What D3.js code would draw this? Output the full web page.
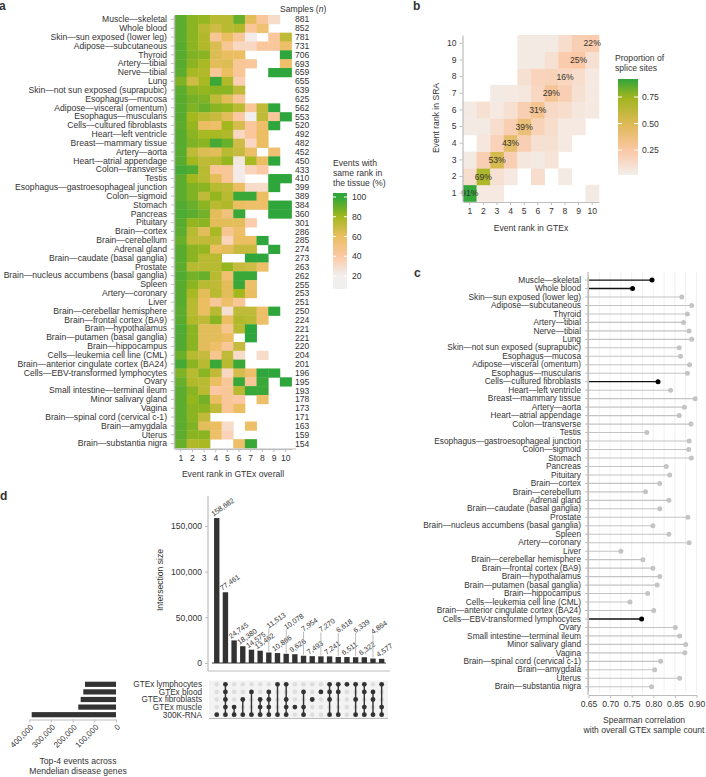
<!DOCTYPE html>
<html><head><meta charset="utf-8">
<script src="https://cdn.jsdelivr.net/npm/d3@7"></script>
<style>
body{margin:0;background:#fff}
text{font-family:"Liberation Sans",Arial,sans-serif;fill:#333}
</style></head>
<body><svg id="c" width="706" height="777"></svg>
<script>
// ---------------- DATA ----------------
const tissues = ["Muscle—skeletal","Whole blood","Skin—sun exposed (lower leg)","Adipose—subcutaneous","Thyroid","Artery—tibial","Nerve—tibial","Lung","Skin—not sun exposed (suprapubic)","Esophagus—mucosa","Adipose—visceral (omentum)","Esophagus—muscularis","Cells—cultured fibroblasts","Heart—left ventricle","Breast—mammary tissue","Artery—aorta","Heart—atrial appendage","Colon—transverse","Testis","Esophagus—gastroesophageal junction","Colon—sigmoid","Stomach","Pancreas","Pituitary","Brain—cortex","Brain—cerebellum","Adrenal gland","Brain—caudate (basal ganglia)","Prostate","Brain—nucleus accumbens (basal ganglia)","Spleen","Artery—coronary","Liver","Brain—cerebellar hemisphere","Brain—frontal cortex (BA9)","Brain—hypothalamus","Brain—putamen (basal ganglia)","Brain—hippocampus","Cells—leukemia cell line (CML)","Brain—anterior cingulate cortex (BA24)","Cells—EBV-transformed lymphocytes","Ovary","Small intestine—terminal ileum","Minor salivary gland","Vagina","Brain—spinal cord (cervical c-1)","Brain—amygdala","Uterus","Brain—substantia nigra"];
const samples = [881,852,781,731,706,693,659,655,639,625,562,553,520,492,482,452,450,433,410,399,389,384,360,301,286,285,274,273,263,262,255,253,251,250,224,221,221,220,204,201,196,195,193,178,173,171,163,159,154];
const ranks = [1,2,3,4,5,6,7,8,9,10];
// % events with same rank in the tissue (null = no event)
const sameRank = [
[92,84,82,74,74,90,62,42,30,null],
[92,84,74,68,74,76,44,55,null,null],
[92,84,76,45,60,44,22,null,42,72],
[93,84,76,65,45,32,32,42,42,58],
[93,86,84,64,60,60,null,null,null,100],
[93,84,78,62,64,44,42,null,null,58],
[92,78,76,44,60,44,null,null,100,100],
[86,68,78,98,76,36,null,null,null,null],
[92,84,82,84,84,72,null,null,null,null],
[93,88,86,72,62,44,null,null,null,null],
[93,86,90,84,82,74,44,72,100,null],
[93,80,74,70,62,40,20,72,42,100],
[92,82,60,58,80,66,42,58,100,null],
[93,84,78,78,76,32,42,60,null,null],
[93,86,84,96,90,68,32,60,null,null],
[93,72,64,62,74,70,58,null,56,null],
[93,80,72,74,82,24,78,60,100,null],
[96,94,74,44,44,22,34,40,null,null],
[92,80,74,62,44,22,null,null,100,100],
[92,86,84,74,72,60,30,30,100,null],
[92,86,72,82,74,98,98,60,null,null],
[94,90,84,74,76,60,58,58,100,100],
[95,92,88,62,52,98,null,null,100,100],
[93,82,84,62,62,62,38,null,null,null],
[92,74,62,78,46,58,null,null,null,null],
[90,72,72,72,34,60,60,100,null,null],
[93,84,82,60,62,70,70,null,100,null],
[93,84,74,74,null,null,100,100,null,null],
[92,74,74,74,82,70,68,58,null,null],
[94,88,90,74,56,98,98,null,null,null],
[93,84,74,72,62,98,58,null,null,null],
[93,78,62,74,62,80,60,null,null,null],
[93,74,60,44,58,44,null,null,null,null],
[92,74,60,74,28,72,72,58,100,null],
[93,76,72,84,60,76,74,58,null,null],
[95,84,62,62,46,74,100,null,null,null],
[94,84,62,62,60,null,100,null,null,null],
[94,84,62,58,44,70,null,null,null,null],
[90,74,70,46,72,30,null,30,null,null],
[96,84,74,98,74,98,null,null,null,null],
[86,74,84,72,32,66,58,100,100,null],
[90,76,74,60,44,98,44,98,null,100],
[92,84,74,40,44,74,98,98,null,null],
[92,82,88,60,44,40,null,58,null,null],
[92,84,84,72,44,60,null,null,null,null],
[92,84,72,null,null,null,null,null,null,null],
[92,86,62,60,30,null,58,null,null,null],
[92,84,84,58,34,null,null,null,null,null],
[90,76,78,null,null,58,98,null,null,null]
];
const legendATicks = [20,40,60,80,100];

// panel b: [GTEx rank, SRA rank, proportion]
const sraCells = [
[1,1,0.91],[2,1,0.05],[3,1,0.05],[10,1,0.04],
[1,2,0.12],[2,2,0.69],[3,2,0.10],[4,2,0.05],[6,2,0.12],[8,2,0.04],
[1,3,0.04],[2,3,0.20],[3,3,0.53],[4,3,0.20],[5,3,0.06],[6,3,0.04],[7,3,0.08],
[2,4,0.06],[3,4,0.18],[4,4,0.43],[5,4,0.20],[6,4,0.10],[7,4,0.10],[8,4,0.05],
[1,5,0.04],[2,5,0.04],[3,5,0.12],[4,5,0.20],[5,5,0.39],[6,5,0.18],[7,5,0.12],[8,5,0.05],[9,5,0.05],
[1,6,0.04],[2,6,0.10],[3,6,0.05],[4,6,0.10],[5,6,0.20],[6,6,0.31],[7,6,0.14],[8,6,0.12],[9,6,0.06],[10,6,0.05],
[3,7,0.04],[4,7,0.05],[5,7,0.06],[6,7,0.15],[7,7,0.29],[8,7,0.20],[9,7,0.10],[10,7,0.05],
[5,8,0.10],[6,8,0.17],[7,8,0.18],[8,8,0.16],[9,8,0.12],[10,8,0.05],
[5,9,0.04],[6,9,0.04],[7,9,0.10],[8,9,0.22],[9,9,0.25],[10,9,0.10],
[5,10,0.04],[6,10,0.04],[7,10,0.04],[8,10,0.12],[9,10,0.20],[10,10,0.22]
];
const legendBTicks = [0.25,0.50,0.75];

// panel c
const spearman = [0.797,0.752,0.866,0.889,0.879,0.870,0.883,0.889,0.860,0.863,0.884,0.879,0.811,0.840,0.897,0.872,0.860,0.887,0.785,0.883,0.882,0.888,0.830,0.838,0.815,0.782,0.836,0.815,0.880,0.799,0.836,0.883,0.725,0.776,0.799,0.815,0.809,0.787,0.746,0.801,0.773,0.851,0.861,0.875,0.873,0.817,0.803,0.861,0.796];
const highlighted = ["Muscle—skeletal","Whole blood","Cells—cultured fibroblasts","Cells—EBV-transformed lymphocytes"];
const spearmanTicks = [0.65,0.70,0.75,0.80,0.85,0.90];

// panel d
const upsetSets = ["GTEx lymphocytes","GTEx blood","GTEx fibroblasts","GTEx muscle","300K-RNA"];
const setSizes = [143000,151000,163000,174000,389000];
const intersectionSizes = [158682,77461,24745,18380,14575,13462,11513,10866,10078,9626,7954,7493,7270,7241,6618,6511,6339,6322,4864,4577];
const intersectionMembers = [
["300K-RNA"],
["GTEx lymphocytes","GTEx blood","GTEx fibroblasts","GTEx muscle","300K-RNA"],
["GTEx muscle","300K-RNA"],
["GTEx fibroblasts","300K-RNA"],
["GTEx blood","300K-RNA"],
["GTEx fibroblasts","GTEx muscle","300K-RNA"],
["GTEx blood","GTEx fibroblasts","GTEx muscle","300K-RNA"],
["GTEx lymphocytes","300K-RNA"],
["GTEx lymphocytes","GTEx fibroblasts","GTEx muscle","300K-RNA"],
["GTEx muscle"],
["GTEx blood","GTEx muscle","300K-RNA"],
["GTEx fibroblasts"],
["GTEx blood"],
["GTEx lymphocytes","GTEx blood","GTEx fibroblasts","300K-RNA"],
["GTEx lymphocytes","GTEx blood","300K-RNA"],
["GTEx lymphocytes"],
["GTEx lymphocytes","GTEx fibroblasts","300K-RNA"],
["GTEx lymphocytes","GTEx blood","GTEx muscle","300K-RNA"],
["GTEx blood","GTEx fibroblasts","300K-RNA"],
["GTEx lymphocytes","GTEx muscle","300K-RNA"]
];
const intersectionTicks = [0,50000,100000,150000];
const setSizeTicks = [0,100000,200000,300000,400000];

// ---------------- DRAW ----------------
const svg = d3.select("#c");
const FS = 8.6, AX = "#bdbdbd";
function styleAxis(g, fs){
  g.selectAll("path.domain").attr("stroke",AX);
  g.selectAll(".tick line").attr("stroke",AX);
  g.selectAll(".tick text").attr("font-size",fs||FS).attr("fill","#333").attr("font-family",'"Liberation Sans",Arial,sans-serif');
}
function panelLabel(t,x,y){svg.append("text").attr("x",x).attr("y",y).attr("font-size",12).attr("font-weight","bold").attr("fill","#000").text(t);}

// ----- panel a -----
panelLabel("a",-1,10);
const xA = d3.scaleBand().domain(ranks).range([175,291.5]);
const yA = d3.scaleBand().domain(tissues).range([15,448]);
const colA = d3.scaleLinear().domain([20,40,60,80,100]).range(["#f1efee","#fcc8a4","#ebbe62","#a2b81c","#2ea63b"]).clamp(true);
const gA = svg.append("g");
tissues.forEach((t,i)=>{
  sameRank[i].forEach((v,j)=>{
    if(v==null) return;
    gA.append("rect").attr("x",xA(ranks[j])).attr("y",yA(t)).attr("width",xA.bandwidth()+0.4).attr("height",yA.bandwidth()+0.4).attr("fill",colA(v));
  });
});
const axAL = svg.append("g").attr("transform","translate(174,0)").call(d3.axisLeft(yA).tickSize(3).tickPadding(4).tickSizeOuter(0));
styleAxis(axAL); axAL.select("path.domain").attr("stroke-width",1.5);
const axAB = svg.append("g").attr("transform","translate(0,449)").call(d3.axisBottom(xA).tickSize(3).tickPadding(3).tickSizeOuter(0));
styleAxis(axAB);
svg.append("line").attr("x1",174).attr("x2",296).attr("y1",449).attr("y2",449).attr("stroke",AX).attr("stroke-width",1.2);
svg.append("text").attr("x",233).attr("y",477).attr("text-anchor","middle").attr("font-size",FS).text("Event rank in GTEx overall");
// samples
svg.append("text").attr("x",280).attr("y",12).attr("font-size",FS).html('Samples (<tspan font-style="italic">n</tspan>)');
tissues.forEach((t,i)=>{
  svg.append("text").attr("x",295).attr("y",yA(t)+yA.bandwidth()/2).attr("dy","0.35em").attr("font-size",FS).text(samples[i]);
});
// legend a
["Events with","same rank in","the tissue (%)"].forEach((s,i)=>svg.append("text").attr("x",333).attr("y",166+i*10).attr("font-size",FS).text(s));
const yLA = d3.scaleLinear().domain([20,100]).range([276,197]);
const defs = svg.append("defs");
const gradA = defs.append("linearGradient").attr("id","gA").attr("x1",0).attr("x2",0).attr("y1",0).attr("y2",1);
const topA = yLA.invert(193), botA = yLA.invert(289);
d3.range(0,1.001,0.05).forEach(f=>gradA.append("stop").attr("offset",f).attr("stop-color",colA(topA+(botA-topA)*f)));
svg.append("rect").attr("x",333).attr("y",193).attr("width",14).attr("height",96).attr("fill","url(#gA)");
legendATicks.forEach(v=>{
  svg.append("line").attr("x1",333).attr("x2",336).attr("y1",yLA(v)).attr("y2",yLA(v)).attr("stroke","#fff");
  svg.append("line").attr("x1",344).attr("x2",347).attr("y1",yLA(v)).attr("y2",yLA(v)).attr("stroke","#fff");
  svg.append("text").attr("x",352).attr("y",yLA(v)).attr("dy","0.35em").attr("font-size",FS).text(v);
});

// ----- panel b -----
panelLabel("b",413,10);
const xB = d3.scaleBand().domain(ranks).range([463,599]);
const yB = d3.scaleBand().domain(ranks.slice().reverse()).range([35,201.5]);
const colB = d3.scaleLinear().domain([0,0.25,0.5,0.75,0.92]).range(["#f3f1f0","#fbc7a4","#ddb955","#9fb51f","#2ea53c"]).clamp(true);
sraCells.forEach(([gx,sy,v])=>{
  svg.append("rect").attr("x",xB(gx)).attr("y",yB(sy)).attr("width",xB.bandwidth()+0.3).attr("height",yB.bandwidth()+0.3).attr("fill",colB(v));
});
sraCells.filter(d=>d[0]===d[1]).forEach(([gx,sy,v])=>{
  svg.append("text").attr("x",xB(gx)+xB.bandwidth()/2).attr("y",yB(sy)+yB.bandwidth()/2).attr("dy","0.35em").attr("text-anchor","middle").attr("font-size",FS).text(Math.round(v*100)+"%");
});
const axBL = svg.append("g").attr("transform","translate(462.5,0)").call(d3.axisLeft(yB).tickSize(3).tickPadding(3).tickSizeOuter(0));
styleAxis(axBL); axBL.select("path.domain").attr("stroke-width",1.2);
const axBB = svg.append("g").attr("transform","translate(0,202)").call(d3.axisBottom(xB).tickSize(3).tickPadding(3).tickSizeOuter(0));
styleAxis(axBB); axBB.select("path.domain").attr("stroke-width",1.2);
svg.append("text").attr("x",531).attr("y",231).attr("text-anchor","middle").attr("font-size",FS).text("Event rank in GTEx");
svg.append("text").attr("transform","translate(439,118) rotate(-90)").attr("text-anchor","middle").attr("font-size",FS).text("Event rank in SRA");
["Proportion of","splice sites"].forEach((s,i)=>svg.append("text").attr("x",615).attr("y",61+i*10).attr("font-size",FS).text(s));
const yLB = d3.scaleLinear().domain([0.25,0.75]).range([150,97]);
const gradB = defs.append("linearGradient").attr("id","gB").attr("x1",0).attr("x2",0).attr("y1",0).attr("y2",1);
const topB = yLB.invert(79), botB = yLB.invert(175);
d3.range(0,1.001,0.05).forEach(f=>gradB.append("stop").attr("offset",f).attr("stop-color",colB(topB+(botB-topB)*f)));
svg.append("rect").attr("x",618).attr("y",79).attr("width",20).attr("height",96).attr("fill","url(#gB)");
legendBTicks.forEach(v=>{
  svg.append("line").attr("x1",618).attr("x2",622).attr("y1",yLB(v)).attr("y2",yLB(v)).attr("stroke","#fff");
  svg.append("line").attr("x1",634).attr("x2",638).attr("y1",yLB(v)).attr("y2",yLB(v)).attr("stroke","#fff");
  svg.append("text").attr("x",642).attr("y",yLB(v)).attr("dy","0.35em").attr("font-size",FS).text(v.toFixed(2));
});

// ----- panel c -----
panelLabel("c",414,277);
const xC = d3.scaleLinear().domain([0.65,0.90]).range([588.5,696.5]);
const yC = d3.scaleBand().domain(tissues).range([275.8,691]);
d3.range(0.65,0.9001,0.025).forEach(v=>{
  svg.append("line").attr("x1",xC(v)).attr("x2",xC(v)).attr("y1",272).attr("y2",693).attr("stroke","#ececec").attr("stroke-width",0.8);
});
tissues.forEach((t,i)=>{
  const hl = highlighted.includes(t);
  const y = yC(t)+yC.bandwidth()/2;
  svg.append("line").attr("x1",xC(0.65)).attr("x2",xC(spearman[i])).attr("y1",y).attr("y2",y).attr("stroke",hl?"#111":"#c4c4c4").attr("stroke-width",hl?1.3:1.1);
  svg.append("circle").attr("cx",xC(spearman[i])).attr("cy",y).attr("r",2.5).attr("fill",hl?"#000":"#c4c4c4");
});
const axCL = svg.append("g").attr("transform","translate(588,0)").call(d3.axisLeft(yC).tickSize(3).tickPadding(4).tickSizeOuter(0));
styleAxis(axCL,8.3); axCL.select("path.domain").attr("stroke-width",1.2);
svg.append("line").attr("x1",588).attr("x2",588).attr("y1",272).attr("y2",695).attr("stroke",AX).attr("stroke-width",1.2);
const axCB = svg.append("g").attr("transform","translate(0,695)").call(d3.axisBottom(xC).tickValues(spearmanTicks).tickFormat(d3.format(".2f")).tickSize(3).tickPadding(3).tickSizeOuter(0));
styleAxis(axCB); axCB.select("path.domain").attr("stroke-width",1.2);
svg.append("text").attr("x",644).attr("y",723).attr("text-anchor","middle").attr("font-size",FS).text("Spearman correlation");
svg.append("text").attr("x",644).attr("y",733).attr("text-anchor","middle").attr("font-size",FS).text("with overall GTEx sample count");

// ----- panel d -----
panelLabel("d",0,500);
const idx = d3.range(intersectionSizes.length);
const xD = d3.scaleBand().domain(idx).range([212.4,386]).paddingInner(0.38).paddingOuter(0.19);
const yD = d3.scaleLinear().domain([0,150000]).range([663,526]);
svg.append("line").attr("x1",208).attr("x2",208).attr("y1",496).attr("y2",671).attr("stroke",AX).attr("stroke-width",1.2);
svg.append("line").attr("x1",208).attr("x2",390).attr("y1",671).attr("y2",671).attr("stroke",AX).attr("stroke-width",1.2);
const axDL = svg.append("g").attr("transform","translate(208,0)").call(d3.axisLeft(yD).tickValues(intersectionTicks).tickFormat(d3.format(",")).tickSize(3).tickPadding(3));
styleAxis(axDL); axDL.select("path.domain").remove();
svg.append("text").attr("transform","translate(163,580) rotate(-90)").attr("text-anchor","middle").attr("font-size",FS).text("Intersection size");
idx.forEach(i=>{
  const v = intersectionSizes[i], x = xD(i), top = yD(v), cx = x+xD.bandwidth()/2;
  svg.append("rect").attr("x",x).attr("y",top).attr("width",xD.bandwidth()).attr("height",663-top).attr("fill","#333");
  const raised = i>=6 && (i-6)%2===0;
  let lx = x-0.5, ly = top-1.5;
  if(raised){
    ly = top-24; lx = cx;
    svg.append("line").attr("x1",cx).attr("x2",cx).attr("y1",top-1).attr("y2",ly).attr("stroke","#aaa").attr("stroke-width",0.8);
  }
  svg.append("text").attr("transform",`translate(${lx},${ly}) rotate(-35)`).attr("font-size",7.2).attr("fill","#555").text(d3.format(",")(v));
});
svg.append("line").attr("x1",212).attr("x2",386).attr("y1",663).attr("y2",663).attr("stroke","#333").attr("stroke-width",1);
// matrix
const yM = d3.scaleBand().domain(upsetSets).range([680.5,718.5]);
svg.append("rect").attr("x",209).attr("y",680.5).attr("width",179).attr("height",38).attr("fill","#f3f3f3");
svg.append("line").attr("x1",209).attr("x2",388).attr("y1",718.5).attr("y2",718.5).attr("stroke",AX);
idx.forEach(i=>{
  const cx = xD(i)+xD.bandwidth()/2;
  upsetSets.forEach(s=>{
    svg.append("circle").attr("cx",cx).attr("cy",yM(s)+yM.bandwidth()/2).attr("r",2.3).attr("fill","#dedede");
  });
  const mem = intersectionMembers[i];
  const ys = mem.map(s=>yM(s)+yM.bandwidth()/2);
  if(mem.length>1) svg.append("line").attr("x1",cx).attr("x2",cx).attr("y1",d3.min(ys)).attr("y2",d3.max(ys)).attr("stroke","#333").attr("stroke-width",1.4);
  ys.forEach(y=>svg.append("circle").attr("cx",cx).attr("cy",y).attr("r",2.4).attr("fill","#333"));
});
upsetSets.forEach(s=>svg.append("text").attr("x",202).attr("y",yM(s)+yM.bandwidth()/2).attr("dy","0.35em").attr("text-anchor","end").attr("font-size",8.2).text(s));
// set sizes
const xS = d3.scaleLinear().domain([0,400000]).range([116,29.3]);
upsetSets.forEach((s,i)=>{
  svg.append("rect").attr("x",xS(setSizes[i])).attr("y",yM(s)+yM.bandwidth()/2-2.6).attr("width",116-xS(setSizes[i])).attr("height",5.2).attr("fill","#333");
});
const axS = svg.append("g").attr("transform","translate(0,719.5)").call(d3.axisBottom(xS).tickValues(setSizeTicks).tickFormat(d3.format(",")).tickSize(3).tickSizeOuter(0));
styleAxis(axS,8); axS.select("path.domain").attr("stroke-width",1.2);
axS.selectAll(".tick text").attr("text-anchor","end").attr("transform","translate(-2,2) rotate(-45)").attr("dy","0.35em").attr("y",6);
svg.append("text").attr("x",78).attr("y",764).attr("text-anchor","middle").attr("font-size",FS).text("Top-4 events across");
svg.append("text").attr("x",78).attr("y",774).attr("text-anchor","middle").attr("font-size",FS).text("Mendelian disease genes");
</script></body></html>
